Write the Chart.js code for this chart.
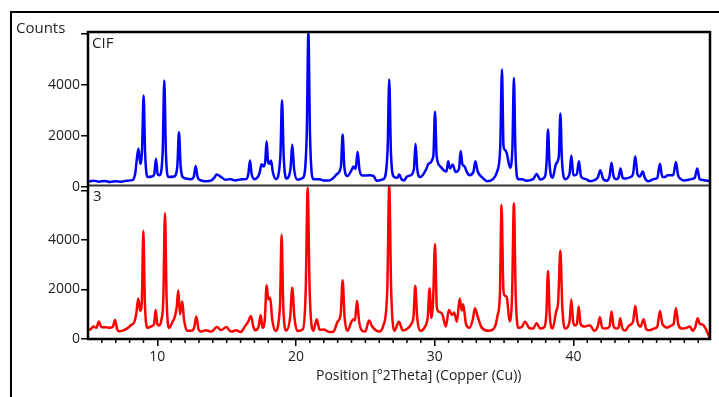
<!DOCTYPE html>
<html>
<head>
<meta charset="utf-8">
<script src="https://cdn.jsdelivr.net/npm/chart.js@4.4.1/dist/chart.umd.min.js"></script>
<style>
  html, body { margin: 0; padding: 0; background: #fff; }
  #wrap { position: relative; width: 719px; height: 397px; overflow: hidden; font-family: "Open Sans", "Noto Sans", sans-serif; color: #222; }
  #frame { position: absolute; left: 10px; top: 11px; width: 760px; height: 440px; border-left: 2px solid #000; border-top: 2px solid #000; }
  canvas { position: absolute; left: 0; top: 0; }
  .lbl { position: absolute; white-space: nowrap; font-size: 14px; line-height: 19px; color: #222; }
</style>
</head>
<body>
<div id="wrap">
  <div id="frame"></div>
  <canvas id="c" width="719" height="397"></canvas>
  <div class="lbl" style="left:16px; top:18px; font-size:15px;">Counts</div>
  <div class="lbl" style="left:92px; top:33px; font-size:15px;">CIF</div>
  <div class="lbl" style="left:93px; top:186px; font-size:15px;">3</div>
  <div class="lbl" style="left:316px; top:365px;">Position [°2Theta] (Copper (Cu))</div>
</div>
<script>
// ---- data: 2Theta positions and counts ----
const cifTheta = [
  5.0, 5.4, 5.8, 6.2, 6.6, 7.0, 7.4, 7.8, 8.2, 8.4,
  8.63, 8.77, 8.9, 9.01, 9.12, 9.3, 9.6, 9.78, 9.9, 10.02,
  10.15, 10.38, 10.5, 10.62, 10.8, 11.2, 11.44, 11.56, 11.68, 11.9,
  12.4, 12.62, 12.76, 12.9, 13.1, 13.5, 13.9, 14.1, 14.28, 14.6,
  14.9, 15.3, 15.6, 16.0, 16.4, 16.56, 16.68, 16.8, 17.0, 17.35,
  17.52, 17.66, 17.78, 17.88, 17.98, 18.08, 18.2, 18.32, 18.55, 18.87,
  18.99, 19.11, 19.3, 19.6, 19.73, 19.86, 20.1, 20.5, 20.77, 20.89,
  21.01, 21.25, 21.7, 22.0, 22.4, 22.7, 22.95, 23.24, 23.36, 23.48,
  23.7, 24.05, 24.15, 24.3, 24.44, 24.58, 24.8, 25.3, 25.6, 25.8,
  26.3, 26.6, 26.72, 26.84, 27.05, 27.3, 27.44, 27.6, 27.8, 28.0,
  28.25, 28.5, 28.62, 28.74, 28.95, 29.4, 29.55, 29.9, 30.02, 30.14,
  30.4, 30.65, 30.85, 30.97, 31.1, 31.3, 31.5, 31.75, 31.87, 32.0,
  32.15, 32.3, 32.5, 32.8, 32.93, 33.1, 33.4, 33.8, 34.2, 34.5,
  34.72, 34.85, 34.96, 35.05, 35.19, 35.43, 35.6, 35.71, 35.82, 36.0,
  36.3, 36.6, 37.1, 37.35, 37.6, 37.95, 38.06, 38.17, 38.28, 38.5,
  38.75, 38.95, 39.06, 39.17, 39.4, 39.72, 39.85, 40.0, 40.1, 40.25,
  40.4, 40.55, 40.9, 41.2, 41.75, 41.94, 42.15, 42.4, 42.6, 42.75,
  42.9, 43.1, 43.25, 43.4, 43.55, 43.8, 44.1, 44.3, 44.46, 44.62,
  44.8, 45.0, 45.15, 45.4, 45.8, 46.05, 46.24, 46.4, 46.6, 46.8,
  47.2, 47.39, 47.55, 47.75, 48.0, 48.5, 48.75, 48.93, 49.1, 49.4,
  49.85
];
const cifCounts = [
  200, 240, 200, 230, 190, 220, 200, 240, 260, 500,
  1500, 900, 1500, 3580, 1300, 380, 400, 500, 1100, 500,
  450, 1300, 4170, 1300, 380, 400, 800, 2140, 800, 350,
  300, 380, 810, 380, 260, 220, 250, 350, 480, 380,
  280, 300, 250, 290, 300, 500, 1030, 500, 300, 500,
  880, 800, 1000, 1790, 1000, 900, 1030, 600, 300, 1200,
  3390, 1200, 320, 700, 1660, 700, 280, 350, 2000, 6050,
  2000, 300, 300, 250, 250, 350, 500, 800, 2050, 800,
  420, 700, 800, 700, 1370, 650, 440, 450, 420, 240,
  300, 1400, 4210, 1400, 400, 350, 480, 300, 250, 400,
  450, 700, 1690, 700, 380, 700, 900, 1200, 2940, 1200,
  800, 650, 600, 1000, 720, 870, 580, 700, 1400, 880,
  800, 600, 450, 600, 1000, 600, 380, 220, 300, 600,
  1500, 4600, 1600, 1450, 1330, 750, 1500, 4270, 1400, 300,
  300, 240, 300, 500, 290, 400, 900, 2250, 900, 350,
  900, 1200, 2870, 1100, 300, 500, 1230, 450, 450, 500,
  1000, 400, 300, 220, 350, 650, 300, 240, 400, 940,
  400, 300, 350, 720, 350, 320, 380, 500, 1200, 500,
  400, 600, 350, 220, 300, 350, 900, 400, 380, 450,
  450, 970, 450, 300, 250, 300, 350, 720, 300, 260,
  220
];

const s3Theta = [
  5.0, 5.2, 5.38, 5.6, 5.79, 5.95, 6.3, 6.6, 6.8, 6.95,
  7.1, 7.25, 7.5, 7.8, 8.1, 8.35, 8.5, 8.62, 8.76, 8.88,
  8.99, 9.1, 9.3, 9.6, 9.76, 9.88, 10.0, 10.12, 10.3, 10.43,
  10.55, 10.67, 10.84, 11.1, 11.25, 11.4, 11.51, 11.63, 11.73, 11.8,
  11.92, 12.15, 12.5, 12.65, 12.81, 12.97, 13.15, 13.5, 13.9, 14.3,
  14.6, 14.98, 15.3, 15.7, 16.0, 16.3, 16.55, 16.75, 16.92, 17.06,
  17.3, 17.45, 17.58, 17.75, 17.88, 18.0, 18.14, 18.28, 18.5, 18.84,
  18.96, 19.08, 19.3, 19.58, 19.73, 19.88, 20.1, 20.5, 20.7, 20.84,
  20.98, 21.25, 21.49, 21.7, 22.0, 22.4, 22.7, 23.0, 23.22, 23.36,
  23.5, 23.7, 24.0, 24.14, 24.25, 24.4, 24.55, 24.75, 25.0, 25.26,
  25.5, 26.0, 26.3, 26.58, 26.72, 26.86, 27.1, 27.42, 27.7, 28.1,
  28.3, 28.47, 28.6, 28.73, 28.95, 29.3, 29.5, 29.63, 29.76, 29.88,
  30.02, 30.15, 30.3, 30.55, 30.8, 31.02, 31.25, 31.4, 31.6, 31.8,
  31.95, 32.05, 32.25, 32.5, 32.75, 32.9, 33.1, 33.4, 33.9, 34.3,
  34.55, 34.7, 34.82, 34.95, 35.05, 35.19, 35.4, 35.58, 35.71, 35.84,
  36.02, 36.3, 36.52, 36.8, 37.1, 37.35, 37.6, 37.9, 38.05, 38.17,
  38.29, 38.5, 38.75, 38.9, 39.06, 39.2, 39.4, 39.72, 39.85, 39.98,
  40.1, 40.25, 40.38, 40.52, 40.8, 41.2, 41.5, 41.75, 41.91, 42.08,
  42.3, 42.6, 42.75, 42.9, 43.1, 43.25, 43.38, 43.52, 43.75, 44.0,
  44.3, 44.46, 44.62, 44.85, 45.07, 45.25, 45.5, 45.8, 46.05, 46.24,
  46.42, 46.8, 47.05, 47.22, 47.39, 47.56, 47.8, 48.1, 48.4, 48.6,
  48.8, 48.96, 49.12, 49.3, 49.6, 49.85
];
const s3Counts = [
  370, 400, 500, 450, 710, 480, 470, 450, 500, 770,
  400, 310, 340, 420, 560, 700, 1100, 1640, 1140, 1500,
  4370, 1500, 450, 520, 600, 1170, 600, 550, 800, 1600,
  5080, 1600, 450, 700, 880, 1300, 1970, 1000, 1300, 1510,
  800, 330, 340, 450, 910, 400, 300, 350, 300, 480,
  360, 480, 300, 350, 280, 500, 700, 930, 500, 350,
  500, 970, 450, 800, 2170, 1600, 1670, 800, 330, 1300,
  4210, 1300, 340, 900, 2070, 900, 320, 400, 2000, 6100,
  2000, 330, 800, 370, 380, 280, 300, 700, 1000, 2370,
  900, 330, 700, 800, 750, 1550, 700, 340, 300, 750,
  500, 300, 550, 2000, 6200, 2000, 330, 700, 340, 450,
  600, 900, 2150, 900, 330, 500, 900, 2040, 850, 1500,
  3840, 1300, 1100, 1000, 500, 1170, 970, 1070, 700, 1640,
  1150, 1400, 620, 450, 800, 1240, 900, 450, 330, 450,
  1000, 1800, 5410, 2000, 1750, 1700, 710, 1800, 5470, 1800,
  450, 500, 700, 450, 420, 640, 420, 480, 1000, 2750,
  1000, 420, 1100, 1500, 3570, 1300, 420, 700, 1600, 700,
  550, 600, 1310, 600, 500, 560, 330, 500, 880, 450,
  420, 500, 1110, 500, 420, 450, 840, 450, 340, 540,
  700, 1330, 700, 500, 800, 400, 350, 420, 500, 1130,
  600, 460, 540, 600, 1240, 600, 420, 440, 500, 330,
  500, 840, 600, 590, 350, 0
];

const xMajorTicks = [10, 20, 30, 40];
const yTicks = [0, 2000, 4000, 6000];

const pts = (xs, ys) => xs.map((x, i) => ({ x: x, y: ys[i] }));

const FONT = { family: '"Open Sans", "Noto Sans", sans-serif', size: 14 };
const TXT = '#222';

const framePlugin = {
  id: 'frame',
  afterDraw(chart) {
    const { ctx, chartArea: a, scales } = chart;
    ctx.save();
    const xs = scales.x;
    ctx.strokeStyle = '#000';
    ctx.lineWidth = 1.5;
    ctx.beginPath();
    for (let v = 6; v <= 49; v++) {
      if (v % 10 === 0) continue;
      const px = xs.getPixelForValue(v);
      ctx.moveTo(px, a.bottom);
      ctx.lineTo(px, a.bottom + 4);
    }
    ctx.stroke();
    const yb = scales.yTop.bottom;
    ctx.strokeStyle = '#333';
    ctx.lineWidth = 2;
    ctx.beginPath();
    ctx.moveTo(a.left, yb);
    ctx.lineTo(a.right, yb);
    ctx.stroke();
    ctx.strokeStyle = '#000';
    ctx.lineWidth = 2.5;
    ctx.strokeRect(a.left, a.top, a.right - a.left, a.bottom - a.top);
    ctx.restore();
  }
};

const yAxis = (min, max, weight) => ({
  type: 'linear',
  position: 'left',
  stack: 'panels',
  stackWeight: 1,
  weight: weight,
  min: min,
  max: max,
  afterBuildTicks: s => { s.ticks = yTicks.map(v => ({ value: v })); },
  afterFit: s => { s.width = 88; },
  ticks: {
    font: FONT, color: TXT, padding: 1,
    callback: v => (v === 6000 ? '' : String(v))
  },
  grid: { drawOnChartArea: false, drawTicks: true, tickLength: 7, color: '#000', lineWidth: 1.5 },
  border: { display: false }
});

new Chart(document.getElementById('c'), {
  type: 'line',
  data: {
    datasets: [
      { label: 'CIF', data: pts(cifTheta, cifCounts), yAxisID: 'yTop', xAxisID: 'x',
        borderColor: '#0000ff', borderWidth: 2.5, pointRadius: 0, cubicInterpolationMode: 'monotone', fill: false },
      { label: '3', data: pts(s3Theta, s3Counts), yAxisID: 'yBot', xAxisID: 'x',
        borderColor: '#ff0000', borderWidth: 2.5, pointRadius: 0, cubicInterpolationMode: 'monotone', fill: false }
    ]
  },
  options: {
    responsive: false,
    animation: false,
    devicePixelRatio: 1,
    layout: { padding: { top: 32, right: 9, left: 0, bottom: 0 } },
    plugins: { legend: { display: false }, tooltip: { enabled: false } },
    scales: {
      x: {
        type: 'linear', position: 'bottom', min: 5, max: 49.85,
        afterBuildTicks: s => { s.ticks = xMajorTicks.map(v => ({ value: v })); },
        afterFit: s => { s.height = 58; },
        ticks: { font: FONT, color: TXT, padding: 3, maxRotation: 0, autoSkip: false, callback: v => String(v) },
        grid: { drawOnChartArea: false, drawTicks: true, tickLength: 7, color: '#000', lineWidth: 1.5 },
        border: { display: false }
      },
      yBot: yAxis(0, 6200, 0),
      yTop: yAxis(50, 6070, 1)
    }
  },
  plugins: [framePlugin]
});
</script>
</body>
</html>
